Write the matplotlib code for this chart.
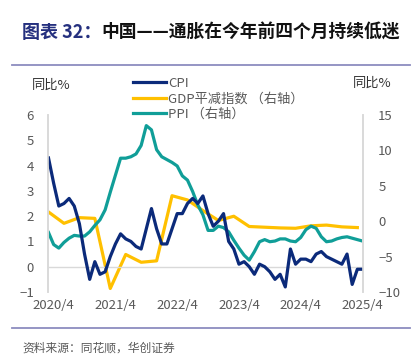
import matplotlib
matplotlib.use("Agg")
import matplotlib.pyplot as plt
import pandas as pd

plt.rcParams['font.family'] = ['Noto Sans CJK SC', 'DejaVu Sans']

# monthly categories, 2020/3 .. 2025/4
months = [str(p) for p in pd.period_range('2020-03', '2025-04', freq='M')]

cpi = [4.3, 3.3, 2.4, 2.5, 2.7, 2.4, 1.7, 0.5, -0.5, 0.2,
       -0.3, -0.2, 0.4, 0.9, 1.3, 1.1, 1.0, 0.8, 0.7, 1.5, 2.3, 1.5,
       0.9, 0.9, 1.5, 2.1, 2.1, 2.5, 2.7, 2.5, 2.8, 2.1, 1.6, 1.8,
       2.1, 1.0, 0.7, 0.1, 0.2, 0.0, -0.3, 0.1, 0.0, -0.2, -0.5, -0.3,
       -0.8, 0.7, 0.1, 0.3, 0.3, 0.2, 0.5, 0.6, 0.4, 0.3, 0.2, 0.1,
       0.5, -0.7, -0.1, -0.1]

ppi = [-1.6, -3.3, -3.8, -3.0, -2.4, -2.0, -2.1, -2.1, -1.5, -0.6,
       0.2, 1.6, 4.1, 6.5, 8.9, 8.9, 9.1, 9.5, 10.7, 13.5, 12.9, 10.1,
       9.1, 8.7, 8.3, 7.8, 6.4, 5.8, 4.2, 2.3, 0.9, -1.3, -1.3, -0.7,
       -0.9, -1.5, -2.7, -3.8, -4.8, -5.5, -4.3, -2.9, -2.6, -2.9, -2.8, -2.5,
       -2.5, -2.8, -2.9, -2.3, -1.2, -0.7, -1.0, -2.2, -2.9, -2.8, -2.5, -2.3,
       -2.2, -2.4, -2.6, -2.8]

# GDP deflator, quarterly
gdp_quarters = ['2020-03', '2020-06', '2020-09', '2020-12',
                '2021-03', '2021-06', '2021-09', '2021-12',
                '2022-03', '2022-06', '2022-09', '2022-12',
                '2023-03', '2023-06', '2023-09', '2023-12',
                '2024-03', '2024-06', '2024-09', '2024-12', '2025-03']
gdp = [1.3, -0.3, 0.5, 0.4, -9.5, -4.7, -5.8, -5.6, 3.6, 3.0, 1.5, 0.1,
       0.7, -0.75, -0.85, -0.95, -1.0, -0.65, -0.55, -0.8, -0.9]

tick_months = ['2020-04', '2021-04', '2022-04', '2023-04', '2024-04', '2025-04']
tick_labels = ['2020/4', '2021/4', '2022/4', '2023/4', '2024/4', '2025/4']

x = list(range(len(months)))
xg = [months.index(q) for q in gdp_quarters]
xt = [months.index(m) for m in tick_months]

NAVY = '#0b2a7a'
YELLOW = '#ffc000'
TEAL = '#109e98'
GRAY = '#595959'
LIGHT = '#d9d9d9'

W, H = 418, 355
fig = plt.figure(figsize=(W / 100, H / 100), dpi=100)
ax = fig.add_axes([48 / W, 1 - 292 / H, (363 - 48) / W, (292 - 115) / H])
ax2 = ax.twinx()

ax.axhline(0, color=LIGHT, lw=1)
l1, = ax.plot(x, cpi, color=NAVY, lw=2.3, label='CPI')
l2, = ax2.plot(xg, gdp, color=YELLOW, lw=2.3, label='GDP平减指数 （右轴）')
l3, = ax2.plot(x, ppi, color=TEAL, lw=2.3, label='PPI （右轴）')

# CPI drawn above the right-axis series
ax.set_zorder(ax2.get_zorder() + 1)
ax.patch.set_visible(False)

ax.set_xlim(-0.1, len(months) - 0.9)
ax.set_ylim(-1, 6)
ax.set_yticks(range(-1, 7))
ax2.set_ylim(-10, 15)
ax2.set_yticks(range(-10, 16, 5))
ax.set_xticks(xt)
ax.set_xticklabels(tick_labels)

for a in (ax, ax2):
    a.tick_params(length=0, labelsize=9.5, labelcolor=GRAY)
    for s in ('top', 'bottom'):
        a.spines[s].set_visible(False)
    for s in ('left', 'right'):
        a.spines[s].set_color(LIGHT)
        a.spines[s].set_linewidth(1.2)
ax.tick_params(axis='y', pad=10)
ax2.tick_params(axis='y', pad=11)
ax.tick_params(axis='x', pad=5)

fig.legend(handles=[l1, l2, l3], loc='upper left',
           bbox_to_anchor=(133 / W, 1 - 77 / H), frameon=False,
           fontsize=9.5, labelcolor=GRAY, handlelength=2.5,
           handletextpad=0.15, labelspacing=0.18, borderpad=0,
           borderaxespad=0)

fig.text(51 / W, 1 - 85 / H, '同比%', ha='center', va='center',
         fontsize=9.5, color='#333333')
fig.text(372 / W, 1 - 83 / H, '同比%', ha='center', va='center',
         fontsize=9.5, color='#333333')

# title
fig.text(22 / W, 1 - 33 / H, '图表 32：', ha='left', va='center',
         fontsize=13, fontweight='bold', color='#25307f')
fig.text(101 / W, 1 - 33 / H, '中国——通胀在今年前四个月持续低迷',
         ha='left', va='center', fontsize=12.8, fontweight='bold',
         color='#111111')

# rules
fig.add_artist(plt.Line2D([12 / W, 410 / W], [1 - 65 / H, 1 - 65 / H],
                          color='#8c8cbf', lw=1.3))
fig.add_artist(plt.Line2D([12 / W, 410 / W], [1 - 328 / H, 1 - 328 / H],
                          color='#8c8cbf', lw=1.3))

fig.text(22 / W, 1 - 342 / H, '资料来源：同花顺，华创证券', ha='left',
         va='top', fontsize=8.5, color=GRAY)

fig.savefig('out.png', dpi=100)
